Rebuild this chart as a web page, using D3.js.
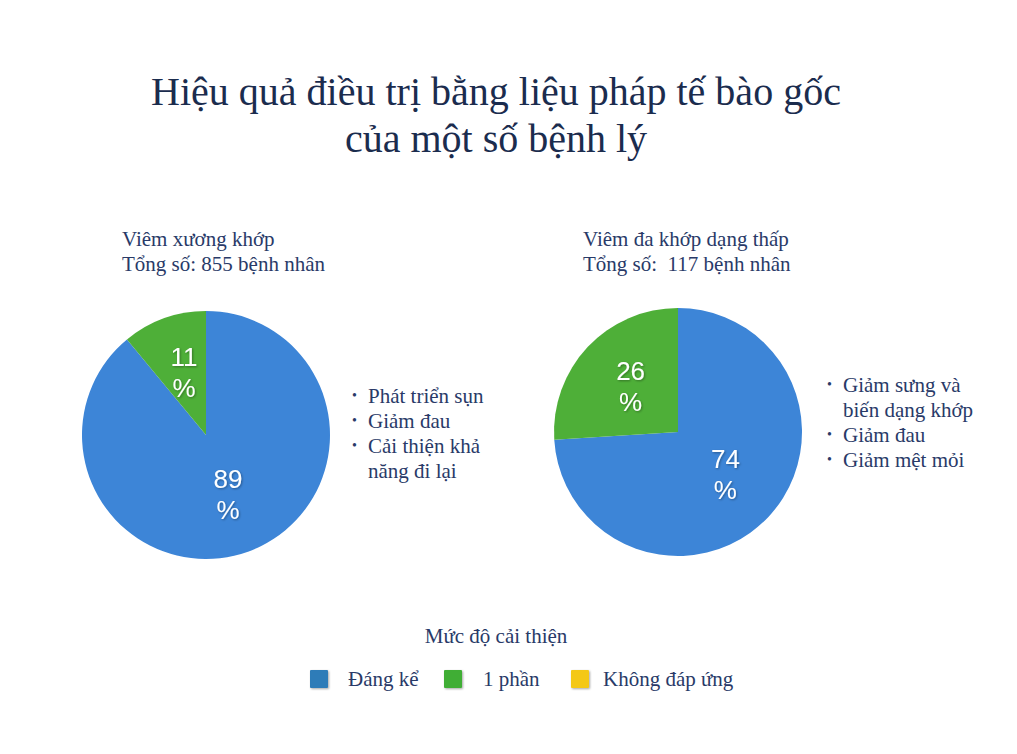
<!DOCTYPE html>
<html>
<head>
<meta charset="utf-8">
<script src="https://cdn.jsdelivr.net/npm/d3@7"></script>
<style>
  body { margin: 0; background: #fff; }
  svg { display: block; }
</style>
</head>
<body>
<div class="chart"></div>
<script>
// data
const titleLines = ["Hiệu quả điều trị bằng liệu pháp tế bào gốc", "của một số bệnh lý"];
const categories = ["Đáng kể", "1 phần", "Không đáp ứng"];
const colors = ["#3d85d7", "#4eaf38", "#f2c80f"];
const legendColors = ["#2f7bb8", "#3fae35", "#f4c816"];
const diseases = ["Viêm xương khớp", "Viêm đa khớp dạng thấp"];
const totals = ["Tổng số: 855 bệnh nhân", "Tổng số:  117 bệnh nhân"];
const values1 = [89, 11, 0];
const values2 = [74, 26, 0];
const notes1 = [["Phát triển sụn"], ["Giảm đau"], ["Cải thiện khả", "năng đi lại"]];
const notes2 = [["Giảm sưng và", "biến dạng khớp"], ["Giảm đau"], ["Giảm mệt mỏi"]];
const legendTitle = "Mức độ cải thiện";

const width = 1017, height = 754;
const serif = "Liberation Serif, Tinos, Times New Roman, DejaVu Serif, serif";
const textColor = "#293a68";

const svg = d3.select(".chart").append("svg")
  .attr("width", width)
  .attr("height", height);

const defs = svg.append("defs");
const shadow = defs.append("filter").attr("id", "shadow")
  .attr("x", "-20%").attr("y", "-20%").attr("width", "150%").attr("height", "150%");
shadow.append("feDropShadow")
  .attr("dx", 1).attr("dy", 1).attr("stdDeviation", 1)
  .attr("flood-color", "#000").attr("flood-opacity", 0.35);

// title
svg.append("text")
  .attr("text-anchor", "middle")
  .style("font-family", serif)
  .attr("font-size", 40)
  .attr("fill", "#1b2c4e")
  .selectAll("tspan")
  .data(titleLines)
  .join("tspan")
  .attr("x", 496)
  .attr("y", (d, i) => 105 + i * 47)
  .text(d => d);

const pies = [
  { name: diseases[0], total: totals[0], values: values1, notes: notes1, cx: 206, cy: 435, tx: 122, nx: 352, ny: 403 },
  { name: diseases[1], total: totals[1], values: values2, notes: notes2, cx: 678, cy: 432, tx: 583, nx: 827, ny: 392 }
];

const radius = 124;
const pie = d3.pie().sort(null).value(d => d);
const arc = d3.arc().innerRadius(0).outerRadius(radius);
const labelArc = d3.arc().innerRadius(65 * 2 - radius).outerRadius(radius);

pies.forEach(p => {
  // heading
  svg.append("text")
    .attr("x", p.tx).attr("y", 246)
    .style("font-family", serif).attr("font-size", 21)
    .attr("fill", textColor)
    .text(p.name);
  svg.append("text")
    .attr("x", p.tx).attr("y", 271)
    .style("font-family", serif).attr("font-size", 21)
    .attr("fill", textColor)
    .style("white-space", "pre")
    .text(p.total);

  const g = svg.append("g").attr("transform", `translate(${p.cx},${p.cy})`);
  const arcs = pie(p.values).filter(d => d.data > 0);

  g.selectAll("path")
    .data(arcs)
    .join("path")
    .attr("d", arc)
    .attr("fill", d => colors[d.index]);

  // value labels, wrapped on two lines
  const lbl = g.selectAll("text.val")
    .data(arcs)
    .join("text")
    .attr("class", "val")
    .attr("transform", d => `translate(${labelArc.centroid(d)})`)
    .attr("text-anchor", "middle")
    .style("font-family", "Liberation Sans, Arimo, Arial, sans-serif")
    .attr("font-size", 26)
    .attr("fill", "#fff")
    .attr("filter", "url(#shadow)");
  lbl.append("tspan").attr("x", 0).attr("y", -8).text(d => d.data);
  lbl.append("tspan").attr("x", 0).attr("y", 23).text("%");

  // bullet notes
  let line = 0;
  p.notes.forEach(item => {
    item.forEach((t, j) => {
      const y = p.ny + line * 25;
      if (j === 0) {
        svg.append("text")
          .attr("x", p.nx).attr("y", y - 3)
          .style("font-family", serif).attr("font-size", 14)
          .attr("fill", textColor)
          .text("•");
      }
      svg.append("text")
        .attr("x", p.nx + 16).attr("y", y)
        .style("font-family", serif).attr("font-size", 21)
        .attr("fill", textColor)
        .text(t);
      line++;
    });
  });
});

// legend
svg.append("text")
  .attr("x", 496).attr("y", 643)
  .attr("text-anchor", "middle")
  .style("font-family", serif).attr("font-size", 21)
  .attr("fill", textColor)
  .text(legendTitle);

const legendX = [310, 444, 571];
const legend = svg.append("g")
  .selectAll("g")
  .data(categories)
  .join("g")
  .attr("transform", (d, i) => `translate(${legendX[i]},670)`);

legend.append("rect")
  .attr("width", 18).attr("height", 18)
  .attr("rx", 1)
  .attr("fill", (d, i) => legendColors[i])
  .attr("filter", "url(#shadow)");

legend.append("text")
  .attr("x", (d, i) => [38, 39, 32][i])
  .attr("y", 16)
  .style("font-family", serif).attr("font-size", 21)
  .attr("fill", textColor)
  .text(d => d);
</script>
</body>
</html>
